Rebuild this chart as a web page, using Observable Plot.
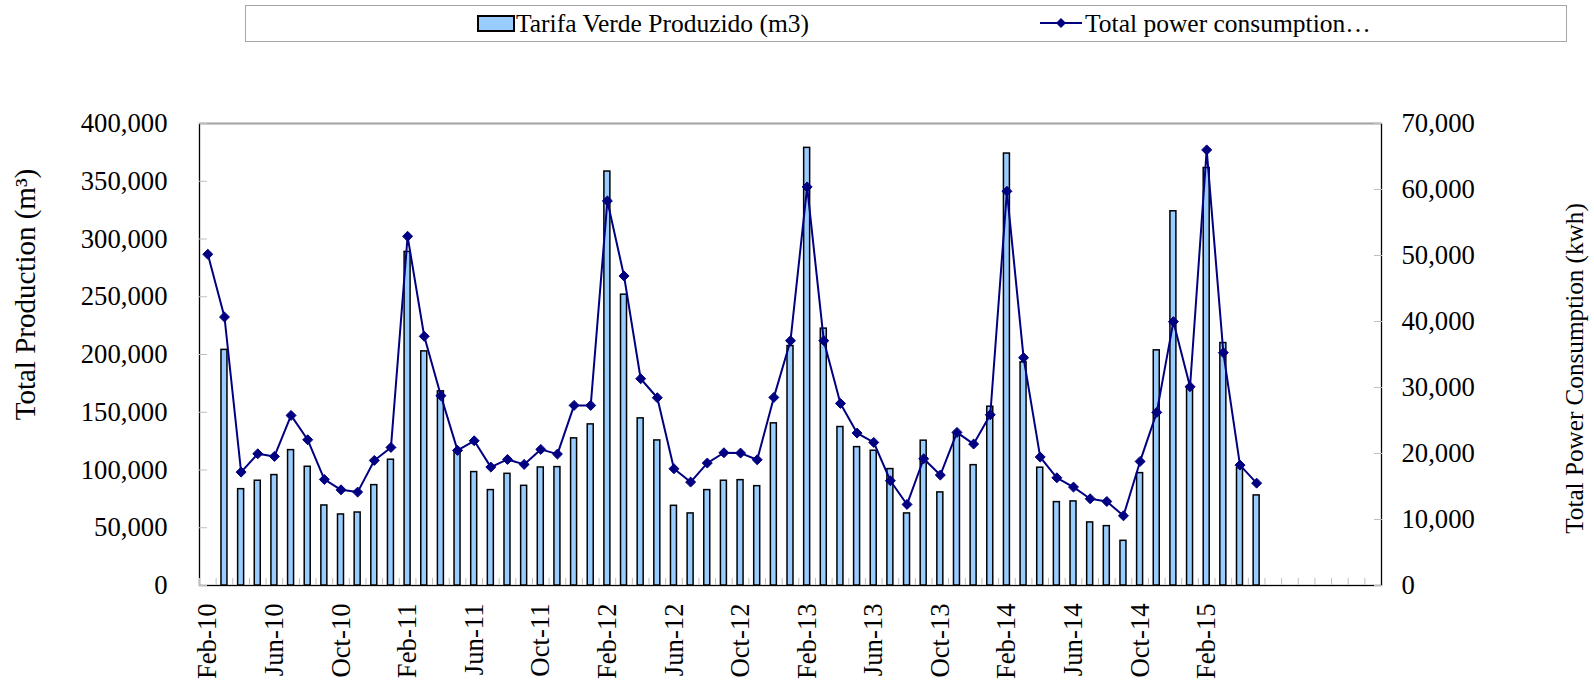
<!DOCTYPE html>
<html>
<head>
<meta charset="utf-8">
<script src="https://cdn.jsdelivr.net/npm/d3@7"></script>
<script src="https://cdn.jsdelivr.net/npm/@observablehq/plot@0.6"></script>
<style>
  html, body { margin: 0; padding: 0; background: #fff; }
  #wrap { position: relative; width: 1594px; height: 685px; font-family: "Liberation Serif", "Times New Roman", serif; }
  #legend { position: absolute; left: 245px; top: 5px; width: 1320px; height: 35px; border: 1px solid #a6a6a6; background: #fff; }
  #legend .item { position: absolute; top: 0; height: 35px; line-height: 35px; font-size: 25.5px; color: #000; white-space: nowrap; }
  #legend .sw { position: absolute; top: 9px; width: 34px; height: 13px; background: #99CCFF; border: 2px solid #000; }
  #legend svg { position: absolute; top: 7px; }
</style>
</head>
<body>
<div id="wrap">
  <div id="chart"></div>
  <div id="legend"></div>
</div>
<script>
// ---------- data ----------
const months = [
  "Feb-10","Mar-10","Apr-10","May-10","Jun-10","Jul-10","Aug-10","Sep-10","Oct-10","Nov-10","Dec-10",
  "Jan-11","Feb-11","Mar-11","Apr-11","May-11","Jun-11","Jul-11","Aug-11","Sep-11","Oct-11","Nov-11","Dec-11",
  "Jan-12","Feb-12","Mar-12","Apr-12","May-12","Jun-12","Jul-12","Aug-12","Sep-12","Oct-12","Nov-12","Dec-12",
  "Jan-13","Feb-13","Mar-13","Apr-13","May-13","Jun-13","Jul-13","Aug-13","Sep-13","Oct-13","Nov-13","Dec-13",
  "Jan-14","Feb-14","Mar-14","Apr-14","May-14","Jun-14","Jul-14","Aug-14","Sep-14","Oct-14","Nov-14","Dec-14",
  "Jan-15","Feb-15","Mar-15","Apr-15","May-15","Jun-15","Jul-15","Aug-15","Sep-15","Oct-15","Nov-15","Dec-15"
];
const tickLabels = ["Feb-10","Jun-10","Oct-10","Feb-11","Jun-11","Oct-11","Feb-12","Jun-12","Oct-12",
  "Feb-13","Jun-13","Oct-13","Feb-14","Jun-14","Oct-14","Feb-15"];

// Tarifa Verde Produzido (m3), Feb-10 .. May-15
const production = [null,204000,83400,90700,95600,117200,102800,69300,61500,63200,86900,
  108900,288800,202700,168100,117000,98200,82600,96700,86300,102200,102500,127400,
  139500,358400,251800,144700,125600,69000,62400,82600,90700,91200,86000,140400,
  207300,378900,222400,137200,119800,116700,100800,62400,125400,80600,131400,104200,
  154800,374000,193200,102000,72200,72800,54600,51400,38700,97300,203600,324000,
  172100,361500,209900,101600,78000];

// Total power consumption (kwh), Feb-10 .. May-15
const power = [50180,40680,17180,19960,19560,25770,22080,16070,14500,14150,18950,
  20920,52910,37750,28760,20470,21930,17940,19100,18350,20620,19910,27290,
  27290,58270,46900,31330,28450,17690,15670,18550,20110,20060,19050,28500,
  37090,60390,37090,27590,23090,21680,15870,12280,19200,16730,23200,21430,
  25870,59730,34520,19460,16320,14910,13140,12730,10560,18800,26230,39980,
  30120,66000,35280,18240,15510];

const leftTicks = [0,50000,100000,150000,200000,250000,300000,350000,400000];
const rightTicks = [0,10000,20000,30000,40000,50000,60000,70000];
const leftMax = 400000, rightMax = 70000;

const seriesNames = ["Tarifa Verde Produzido (m3)", "Total power consumption\u2026"];
const leftTitle = "Total Production (m\u00B3)";
const rightTitle = "Total Power Consumption (kwh)";

// ---------- layout ----------
const W = 1594, H = 685;
const M = {top: 123, right: 213, bottom: 100, left: 199};
const step = (W - M.left - M.right) / months.length;
const toLeft = v => v * leftMax / rightMax;
const fromLeft = v => v * rightMax / leftMax;
const fmt = d3.format(",");

const rows = production.map((p, i) => ({month: months[i], prod: p, power: power[i]}));

const barFill = "#99CCFF", lineColor = "#000080", tickGrey = "#bfbfbf";

const chart = Plot.plot({
  width: W, height: H,
  marginTop: M.top, marginRight: M.right, marginBottom: M.bottom, marginLeft: M.left,
  style: {fontFamily: "'Liberation Serif', 'Times New Roman', serif", fontSize: "26.7px", background: "#fff", color: "#000"},
  x: {type: "band", domain: months, paddingInner: 0.64, paddingOuter: 0.32, round: false, axis: null, label: null},
  y: {domain: [0, leftMax], axis: null, label: null},
  marks: [
    Plot.frame({stroke: "#000", strokeWidth: 1.3}),
    Plot.ruleY([leftMax], {stroke: "#a6a6a6", strokeWidth: 1.3}),
    // inward category-boundary ticks on the bottom axis
    Plot.axisX({anchor: "bottom", ticks: months, tickSize: 7, dx: -step / 2, dy: -7,
      stroke: tickGrey, fill: "none", tickFormat: () => "", label: null}),
    // inward ticks on left and right axes
    Plot.axisY({anchor: "left", ticks: leftTicks, tickSize: 8, dx: 8, stroke: tickGrey,
      fill: "none", tickFormat: () => "", label: null}),
    Plot.axisY({anchor: "right", ticks: rightTicks.map(toLeft), tickSize: 8, dx: -8, stroke: tickGrey,
      fill: "none", tickFormat: () => "", label: null}),
    // tick labels
    Plot.axisY({anchor: "left", ticks: leftTicks, tickSize: 0, tickPadding: 32, tickFormat: fmt, label: null}),
    Plot.axisY({anchor: "right", ticks: rightTicks.map(toLeft), tickSize: 0, tickPadding: 20,
      tickFormat: d => fmt(Math.round(fromLeft(d))), label: null}),
    Plot.axisX({anchor: "bottom", ticks: tickLabels, tickSize: 0, tickPadding: 18, tickRotate: -90, label: null}),
    // bars
    Plot.barY(rows, {x: "month", y: "prod", fill: barFill, stroke: "#000", strokeWidth: 1.5}),
    // line + diamonds
    Plot.line(rows, {x: "month", y: d => toLeft(d.power), stroke: lineColor, strokeWidth: 2}),
    Plot.dot(rows, {x: "month", y: d => toLeft(d.power), symbol: "diamond2", r: 4.5,
      fill: lineColor, stroke: lineColor, strokeWidth: 1}),
    // axis titles
    Plot.text([leftTitle], {text: d => d, frameAnchor: "left", dx: -174, dy: -60, rotate: -90,
      textAnchor: "middle", fontSize: 29, fill: "#000"}),
    Plot.text([rightTitle], {text: d => d, frameAnchor: "right", dx: 193, dy: 14, rotate: -90,
      textAnchor: "middle", fontSize: 25.2, fill: "#000"})
  ]
});
document.getElementById("chart").appendChild(chart);

// ---------- legend ----------
const legend = document.getElementById("legend");
const sw = document.createElement("span");
sw.className = "sw"; sw.style.left = "231px";
legend.appendChild(sw);
const t1 = document.createElement("span");
t1.className = "item"; t1.style.left = "270px"; t1.textContent = seriesNames[0];
legend.appendChild(t1);
const ls = d3.create("svg").attr("width", 42).attr("height", 20).style("left", "794px");
ls.append("line").attr("x1", 0).attr("x2", 42).attr("y1", 10).attr("y2", 10)
  .attr("stroke", lineColor).attr("stroke-width", 2);
ls.append("path").attr("d", "M21,5L26,10L21,15L16,10Z").attr("fill", lineColor);
legend.appendChild(ls.node());
const t2 = document.createElement("span");
t2.className = "item"; t2.style.left = "839px"; t2.textContent = seriesNames[1];
legend.appendChild(t2);
</script>
</body>
</html>
